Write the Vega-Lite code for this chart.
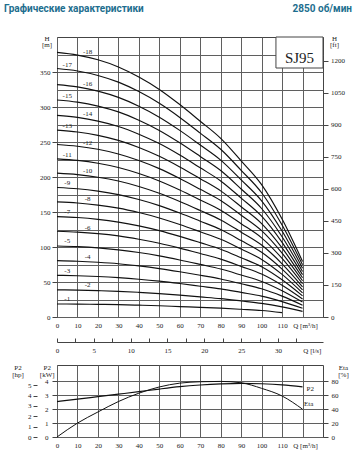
{
  "$schema": "https://vega.github.io/schema/vega-lite/v6.json",
  "autosize": "none",
  "padding": {"left": 57, "top": 37, "right": 300, "bottom": 413},
  "title": {"text": "Графические характеристики", "anchor": "start", "frame": "group", "font": "Roboto", "fontSize": 10, "fontWeight": "bold", "color": "#1d6e8e", "offset": -10.5, "dx": -53},
  "config": {
    "view": {"stroke": "#444", "strokeWidth": 1},
    "axis": {"labelFont": "Liberation Serif", "labelFontSize": 7, "labelColor": "#222", "titleFont": "Liberation Serif", "titleFontSize": 7, "titleFontWeight": "normal", "titleColor": "#222", "tickColor": "#444", "gridColor": "#5f5f5f", "gridOpacity": 1, "domain": false, "labelFlush": false, "labelOverlap": false, "labelBound": false}
  },
  "datasets": {
    "curves": [
      {"n":1,"q":0,"h":18.6},{"n":1,"q":10,"h":18.4},{"n":1,"q":20,"h":18.1},{"n":1,"q":30,"h":17.6},{"n":1,"q":40,"h":16.9},{"n":1,"q":50,"h":16.0},{"n":1,"q":60,"h":14.9},{"n":1,"q":70,"h":13.8},{"n":1,"q":80,"h":12.6},{"n":1,"q":90,"h":11.0},{"n":1,"q":100,"h":9.3},{"n":1,"q":110,"h":6.2},
      {"n":2,"q":0,"h":38.8},{"n":2,"q":10,"h":38.4},{"n":2,"q":20,"h":37.7},{"n":2,"q":30,"h":36.7},{"n":2,"q":40,"h":35.2},{"n":2,"q":50,"h":33.4},{"n":2,"q":60,"h":31.2},{"n":2,"q":70,"h":28.7},{"n":2,"q":80,"h":26.2},{"n":2,"q":90,"h":22.9},{"n":2,"q":100,"h":19.4},{"n":2,"q":110,"h":14.4},{"n":2,"q":120,"h":8.1},
      {"n":3,"q":0,"h":59.5},{"n":3,"q":10,"h":58.9},{"n":3,"q":20,"h":57.8},{"n":3,"q":30,"h":56.2},{"n":3,"q":40,"h":54.0},{"n":3,"q":50,"h":51.2},{"n":3,"q":60,"h":47.8},{"n":3,"q":70,"h":44.0},{"n":3,"q":80,"h":40.2},{"n":3,"q":90,"h":35.1},{"n":3,"q":100,"h":29.8},{"n":3,"q":110,"h":22.0},{"n":3,"q":120,"h":12.5},
      {"n":4,"q":0,"h":80.5},{"n":4,"q":10,"h":79.7},{"n":4,"q":20,"h":78.2},{"n":4,"q":30,"h":76.1},{"n":4,"q":40,"h":73.0},{"n":4,"q":50,"h":69.2},{"n":4,"q":60,"h":64.6},{"n":4,"q":70,"h":59.6},{"n":4,"q":80,"h":54.3},{"n":4,"q":90,"h":47.5},{"n":4,"q":100,"h":40.3},{"n":4,"q":110,"h":29.8},{"n":4,"q":120,"h":16.9},
      {"n":5,"q":0,"h":101.5},{"n":5,"q":10,"h":100.5},{"n":5,"q":20,"h":98.7},{"n":5,"q":30,"h":95.9},{"n":5,"q":40,"h":92.1},{"n":5,"q":50,"h":87.3},{"n":5,"q":60,"h":81.5},{"n":5,"q":70,"h":75.1},{"n":5,"q":80,"h":68.5},{"n":5,"q":90,"h":59.9},{"n":5,"q":100,"h":50.8},{"n":5,"q":110,"h":37.6},{"n":5,"q":120,"h":21.3},
      {"n":6,"q":0,"h":122.5},{"n":6,"q":10,"h":121.3},{"n":6,"q":20,"h":119.1},{"n":6,"q":30,"h":115.8},{"n":6,"q":40,"h":111.1},{"n":6,"q":50,"h":105.4},{"n":6,"q":60,"h":98.4},{"n":6,"q":70,"h":90.7},{"n":6,"q":80,"h":82.7},{"n":6,"q":90,"h":72.3},{"n":6,"q":100,"h":61.3},{"n":6,"q":110,"h":45.3},{"n":6,"q":120,"h":25.7},
      {"n":7,"q":0,"h":143.5},{"n":7,"q":10,"h":142.1},{"n":7,"q":20,"h":139.5},{"n":7,"q":30,"h":135.6},{"n":7,"q":40,"h":130.2},{"n":7,"q":50,"h":123.4},{"n":7,"q":60,"h":115.2},{"n":7,"q":70,"h":106.2},{"n":7,"q":80,"h":96.9},{"n":7,"q":90,"h":84.7},{"n":7,"q":100,"h":71.8},{"n":7,"q":110,"h":53.1},{"n":7,"q":120,"h":30.1},
      {"n":8,"q":0,"h":164.5},{"n":8,"q":10,"h":162.9},{"n":8,"q":20,"h":159.9},{"n":8,"q":30,"h":155.5},{"n":8,"q":40,"h":149.2},{"n":8,"q":50,"h":141.5},{"n":8,"q":60,"h":132.1},{"n":8,"q":70,"h":121.7},{"n":8,"q":80,"h":111.0},{"n":8,"q":90,"h":97.1},{"n":8,"q":100,"h":82.3},{"n":8,"q":110,"h":60.9},{"n":8,"q":120,"h":34.5},
      {"n":9,"q":0,"h":185.0},{"n":9,"q":10,"h":183.2},{"n":9,"q":20,"h":179.8},{"n":9,"q":30,"h":174.8},{"n":9,"q":40,"h":167.8},{"n":9,"q":50,"h":159.1},{"n":9,"q":60,"h":148.6},{"n":9,"q":70,"h":136.9},{"n":9,"q":80,"h":124.9},{"n":9,"q":90,"h":109.2},{"n":9,"q":100,"h":92.5},{"n":9,"q":110,"h":68.5},{"n":9,"q":120,"h":38.9},
      {"n":10,"q":0,"h":205.5},{"n":10,"q":10,"h":203.4},{"n":10,"q":20,"h":199.7},{"n":10,"q":30,"h":194.2},{"n":10,"q":40,"h":186.4},{"n":10,"q":50,"h":176.7},{"n":10,"q":60,"h":165.0},{"n":10,"q":70,"h":152.1},{"n":10,"q":80,"h":138.7},{"n":10,"q":90,"h":121.2},{"n":10,"q":100,"h":102.8},{"n":10,"q":110,"h":76.0},{"n":10,"q":120,"h":43.2},
      {"n":11,"q":0,"h":226.0},{"n":11,"q":10,"h":223.7},{"n":11,"q":20,"h":219.7},{"n":11,"q":30,"h":213.6},{"n":11,"q":40,"h":205.0},{"n":11,"q":50,"h":194.4},{"n":11,"q":60,"h":181.5},{"n":11,"q":70,"h":167.2},{"n":11,"q":80,"h":152.6},{"n":11,"q":90,"h":133.3},{"n":11,"q":100,"h":113.0},{"n":11,"q":110,"h":83.6},{"n":11,"q":120,"h":47.5},
      {"n":12,"q":0,"h":246.5},{"n":12,"q":10,"h":244.0},{"n":12,"q":20,"h":239.6},{"n":12,"q":30,"h":232.9},{"n":12,"q":40,"h":223.6},{"n":12,"q":50,"h":212.0},{"n":12,"q":60,"h":197.9},{"n":12,"q":70,"h":182.4},{"n":12,"q":80,"h":166.4},{"n":12,"q":90,"h":145.4},{"n":12,"q":100,"h":123.3},{"n":12,"q":110,"h":91.2},{"n":12,"q":120,"h":51.8},
      {"n":13,"q":0,"h":267.0},{"n":13,"q":10,"h":264.3},{"n":13,"q":20,"h":259.5},{"n":13,"q":30,"h":252.3},{"n":13,"q":40,"h":242.2},{"n":13,"q":50,"h":229.6},{"n":13,"q":60,"h":214.4},{"n":13,"q":70,"h":197.6},{"n":13,"q":80,"h":180.2},{"n":13,"q":90,"h":157.5},{"n":13,"q":100,"h":133.5},{"n":13,"q":110,"h":98.8},{"n":13,"q":120,"h":56.1},
      {"n":14,"q":0,"h":288.0},{"n":14,"q":10,"h":285.1},{"n":14,"q":20,"h":279.9},{"n":14,"q":30,"h":272.2},{"n":14,"q":40,"h":261.2},{"n":14,"q":50,"h":247.7},{"n":14,"q":60,"h":231.3},{"n":14,"q":70,"h":213.1},{"n":14,"q":80,"h":194.4},{"n":14,"q":90,"h":169.9},{"n":14,"q":100,"h":144.0},{"n":14,"q":110,"h":106.6},{"n":14,"q":120,"h":60.5},
      {"n":15,"q":0,"h":310.0},{"n":15,"q":10,"h":306.9},{"n":15,"q":20,"h":301.3},{"n":15,"q":30,"h":293.0},{"n":15,"q":40,"h":281.2},{"n":15,"q":50,"h":266.6},{"n":15,"q":60,"h":248.9},{"n":15,"q":70,"h":229.4},{"n":15,"q":80,"h":209.3},{"n":15,"q":90,"h":182.9},{"n":15,"q":100,"h":155.0},{"n":15,"q":110,"h":114.7},{"n":15,"q":120,"h":65.1},
      {"n":16,"q":0,"h":332.0},{"n":16,"q":10,"h":328.7},{"n":16,"q":20,"h":322.7},{"n":16,"q":30,"h":313.7},{"n":16,"q":40,"h":301.1},{"n":16,"q":50,"h":285.5},{"n":16,"q":60,"h":266.6},{"n":16,"q":70,"h":245.7},{"n":16,"q":80,"h":224.1},{"n":16,"q":90,"h":195.9},{"n":16,"q":100,"h":166.0},{"n":16,"q":110,"h":122.8},{"n":16,"q":120,"h":69.7},
      {"n":17,"q":0,"h":355.0},{"n":17,"q":10,"h":351.5},{"n":17,"q":20,"h":345.1},{"n":17,"q":30,"h":335.5},{"n":17,"q":40,"h":322.0},{"n":17,"q":50,"h":305.3},{"n":17,"q":60,"h":285.1},{"n":17,"q":70,"h":262.7},{"n":17,"q":80,"h":239.6},{"n":17,"q":90,"h":209.5},{"n":17,"q":100,"h":177.5},{"n":17,"q":110,"h":131.4},{"n":17,"q":120,"h":74.6},
      {"n":18,"q":0,"h":378.0},{"n":18,"q":10,"h":374.2},{"n":18,"q":20,"h":367.4},{"n":18,"q":30,"h":357.2},{"n":18,"q":40,"h":342.8},{"n":18,"q":50,"h":325.1},{"n":18,"q":60,"h":303.5},{"n":18,"q":70,"h":279.7},{"n":18,"q":80,"h":255.2},{"n":18,"q":90,"h":223.0},{"n":18,"q":100,"h":189.0},{"n":18,"q":110,"h":139.9},{"n":18,"q":120,"h":79.4}
    ],
    "labels": [
      {"label":"-1","q":5,"h":18.5},{"label":"-2","q":15,"h":38.1},{"label":"-3","q":5,"h":59.2},{"label":"-4","q":15,"h":79.0},
      {"label":"-5","q":5,"h":101.0},{"label":"-6","q":15,"h":120.2},{"label":"-7","q":5,"h":142.8},{"label":"-8","q":15,"h":161.4},
      {"label":"-9","q":5,"h":184.1},{"label":"-10","q":15,"h":201.6},{"label":"-11","q":5,"h":224.9},{"label":"-12","q":15,"h":241.8},
      {"label":"-13","q":5,"h":265.7},{"label":"-14","q":15,"h":282.5},{"label":"-15","q":5,"h":308.5},{"label":"-16","q":15,"h":325.7},
      {"label":"-17","q":5,"h":353.2},{"label":"-18","q":15,"h":370.8}
    ],
    "power": [
      {"q":0,"p2":2.55,"eta":0},{"q":10,"p2":2.72,"eta":20},{"q":20,"p2":2.9,"eta":36},{"q":30,"p2":3.08,"eta":51},
      {"q":40,"p2":3.26,"eta":63},{"q":50,"p2":3.45,"eta":72},{"q":60,"p2":3.62,"eta":77.5},{"q":70,"p2":3.74,"eta":79.5},
      {"q":80,"p2":3.82,"eta":80},{"q":90,"p2":3.86,"eta":78},{"q":100,"p2":3.83,"eta":70},{"q":110,"p2":3.75,"eta":59},
      {"q":120,"p2":3.6,"eta":40}
    ]
  },
  "vconcat": [
    {
      "width": 266,
      "height": 280,
      "title": {"text": "2850 об/мин", "anchor": "end", "frame": "group", "font": "Roboto", "fontSize": 10, "fontWeight": "bold", "color": "#1d6e8e", "offset": 20.5, "dx": 29},
      "layer": [
        {
          "data": {"name": "curves"},
          "mark": {"type": "line", "interpolate": "monotone", "color": "#111", "strokeWidth": 1.15},
          "encoding": {
            "x": {"field": "q", "type": "quantitative", "scale": {"domain": [0, 130], "nice": false, "zero": false},
              "axis": {"orient": "bottom", "values": [0,10,20,30,40,50,60,70,80,90,100,110,120], "grid": true, "ticks": false, "labelPadding": 4, "title": null,
                "labelExpr": "datum.value == 120 ? 'Q [m³/h]' : datum.label",
                "labelOffset": {"condition": {"test": "datum.value == 120", "value": 2.5}, "value": 0}}},
            "y": {"field": "h", "type": "quantitative", "scale": {"domain": [0, 400], "nice": false, "zero": false},
              "axis": {"orient": "left", "values": [0,25,50,75,100,125,150,175,200,225,250,275,300,325,350,375], "grid": true, "tickSize": 5,
                "tickOpacity": {"condition": {"test": "datum.value % 50 != 0", "value": 0}, "value": 1},
                "labelExpr": "datum.value % 50 == 0 ? datum.label : ''", "labelPadding": 2,
                "title": ["H", "[m]"], "titleAngle": 0, "titleAlign": "center", "titleBaseline": "bottom", "titleX": -10.5, "titleY": 4, "titleLineHeight": 6.5}},
            "detail": {"field": "n", "type": "nominal"}
          }
        },
        {
          "data": {"values": [{}]},
          "mark": {"type": "rect", "fill": "white", "stroke": "#444", "strokeWidth": 1},
          "encoding": {
            "x": {"datum": 107, "type": "quantitative", "scale": {"domain": [0, 130], "nice": false, "zero": false}, "axis": null},
            "x2": {"datum": 130},
            "y": {"datum": 355.7, "type": "quantitative", "scale": {"domain": [0, 400], "nice": false, "zero": false}, "axis": null},
            "y2": {"datum": 400}
          }
        },
        {
          "data": {"name": "labels"},
          "mark": {"type": "text", "font": "Liberation Serif", "fontSize": 7, "color": "#222", "dy": -5, "baseline": "middle", "align": "center"},
          "encoding": {
            "x": {"field": "q", "type": "quantitative", "scale": {"domain": [0, 130], "nice": false, "zero": false}, "axis": null},
            "y": {"field": "h", "type": "quantitative", "scale": {"domain": [0, 400], "nice": false, "zero": false}, "axis": null},
            "text": {"field": "label"}
          }
        },
        {
          "data": {"values": [{}]},
          "mark": {"type": "text", "font": "Liberation Serif", "fontSize": 15, "color": "#222", "baseline": "middle", "align": "center"},
          "encoding": {
            "x": {"datum": 118.5, "type": "quantitative", "scale": {"domain": [0, 130], "nice": false, "zero": false}, "axis": null},
            "y": {"datum": 370, "type": "quantitative", "scale": {"domain": [0, 400], "nice": false, "zero": false}, "axis": null},
            "text": {"value": "SJ95"}
          }
        },
        {
          "data": {"values": [{}]},
          "mark": {"type": "rule", "opacity": 0},
          "encoding": {
            "y": {"datum": 0, "type": "quantitative", "scale": {"domain": [0, 1312.34], "nice": false, "zero": false},
              "axis": {"orient": "right", "values": [0,150,300,450,600,750,900,1050,1200], "format": "d", "grid": false, "tickSize": 5, "labelPadding": 2.5,
                "title": ["H", "[ft]"], "titleAngle": 0, "titleAlign": "center", "titleBaseline": "bottom", "titleX": 11, "titleY": 4, "titleLineHeight": 6.5}}
          }
        }
      ],
      "resolve": {"scale": {"x": "independent", "y": "independent"}, "axis": {"x": "independent", "y": "independent"}}
    },
    {
      "width": 266,
      "height": 2.5,
      "view": {"stroke": null},
      "data": {"values": [{}]},
      "mark": {"type": "rule", "opacity": 0},
      "encoding": {
        "x": {"datum": 0, "type": "quantitative", "scale": {"domain": [0, 36.1111], "nice": false, "zero": false},
          "axis": {"orient": "bottom", "values": [0,2.5,5,7.5,10,12.5,15,17.5,20,22.5,25,27.5,30,32.5,34.6], "domain": true, "domainColor": "#444", "grid": false,
            "tickSize": -4, "labelPadding": 8.5, "title": null,
            "tickOpacity": {"condition": {"test": "datum.value > 33", "value": 0}, "value": 1},
            "labelExpr": "datum.value > 33 ? 'Q [l/s]' : (datum.value % 5 == 0 ? datum.label : '')"}}
      }
    },
    {
      "width": 266,
      "height": 72,
      "data": {"name": "power"},
      "layer": [
        {
          "mark": {"type": "line", "interpolate": "monotone", "color": "#111", "strokeWidth": 1.2},
          "encoding": {
            "x": {"field": "q", "type": "quantitative", "scale": {"domain": [0, 130], "nice": false, "zero": false},
              "axis": {"orient": "bottom", "values": [0,10,20,30,40,50,60,70,80,90,100,110,120], "grid": true, "ticks": false, "labelPadding": 4, "title": null,
                "labelExpr": "datum.value == 120 ? 'Q [m³/h]' : datum.label",
                "labelOffset": {"condition": {"test": "datum.value == 120", "value": 2.5}, "value": 0}}},
            "y": {"field": "p2", "type": "quantitative", "scale": {"domain": [0, 5.18], "nice": false, "zero": false},
              "axis": {"orient": "left", "values": [0,1,2,3,4], "grid": true, "tickSize": 5, "labelPadding": 4,
                "title": ["P2", "[kW]"], "titleAngle": 0, "titleAlign": "center", "titleBaseline": "bottom", "titleX": -10.3, "titleY": 5.5, "titleLineHeight": 6.5}}
          }
        },
        {
          "mark": {"type": "line", "interpolate": "monotone", "color": "#111", "strokeWidth": 1},
          "encoding": {
            "x": {"field": "q", "type": "quantitative", "scale": {"domain": [0, 130], "nice": false, "zero": false}, "axis": null},
            "y": {"field": "eta", "type": "quantitative", "scale": {"domain": [0, 103.6], "nice": false, "zero": false},
              "axis": {"orient": "right", "values": [0,20,40,60,80], "grid": false, "tickSize": 5, "labelPadding": 3,
                "title": ["Eta", "[%]"], "titleAngle": 0, "titleAlign": "center", "titleBaseline": "bottom", "titleX": 20, "titleY": 5.5, "titleLineHeight": 6.5}}
          }
        },
        {
          "data": {"values": [{}]},
          "mark": {"type": "rule", "opacity": 0},
          "encoding": {
            "y": {"datum": 0, "type": "quantitative", "scale": {"domain": [0, 6.946], "nice": false, "zero": false},
              "axis": {"orient": "left", "offset": 20, "values": [0,1,2,3,4,5], "grid": false, "tickSize": 4, "labelPadding": 2,
                "title": ["P2", "[hp]"], "titleAngle": 0, "titleAlign": "center", "titleBaseline": "bottom", "titleX": -19.5, "titleY": 5.5, "titleLineHeight": 6.5}}
          }
        },
        {
          "transform": [{"filter": "datum.q == 120"}],
          "mark": {"type": "text", "font": "Liberation Serif", "fontSize": 7, "color": "#222", "align": "left", "baseline": "middle", "dx": 4, "dy": 2},
          "encoding": {
            "x": {"field": "q", "type": "quantitative", "scale": {"domain": [0, 130], "nice": false, "zero": false}, "axis": null},
            "y": {"field": "p2", "type": "quantitative", "scale": {"domain": [0, 5.18], "nice": false, "zero": false}, "axis": null},
            "text": {"value": "P2"}
          }
        },
        {
          "transform": [{"filter": "datum.q == 120"}],
          "mark": {"type": "text", "font": "Liberation Serif", "fontSize": 7, "color": "#222", "align": "left", "baseline": "middle", "dx": 1.5, "dy": -5.5},
          "encoding": {
            "x": {"field": "q", "type": "quantitative", "scale": {"domain": [0, 130], "nice": false, "zero": false}, "axis": null},
            "y": {"field": "eta", "type": "quantitative", "scale": {"domain": [0, 103.6], "nice": false, "zero": false}, "axis": null},
            "text": {"value": "Eta"}
          }
        }
      ],
      "resolve": {"scale": {"x": "independent", "y": "independent"}, "axis": {"x": "independent", "y": "independent"}}
    }
  ],
  "spacing": 22.5,
  "bounds": "flush"
}
